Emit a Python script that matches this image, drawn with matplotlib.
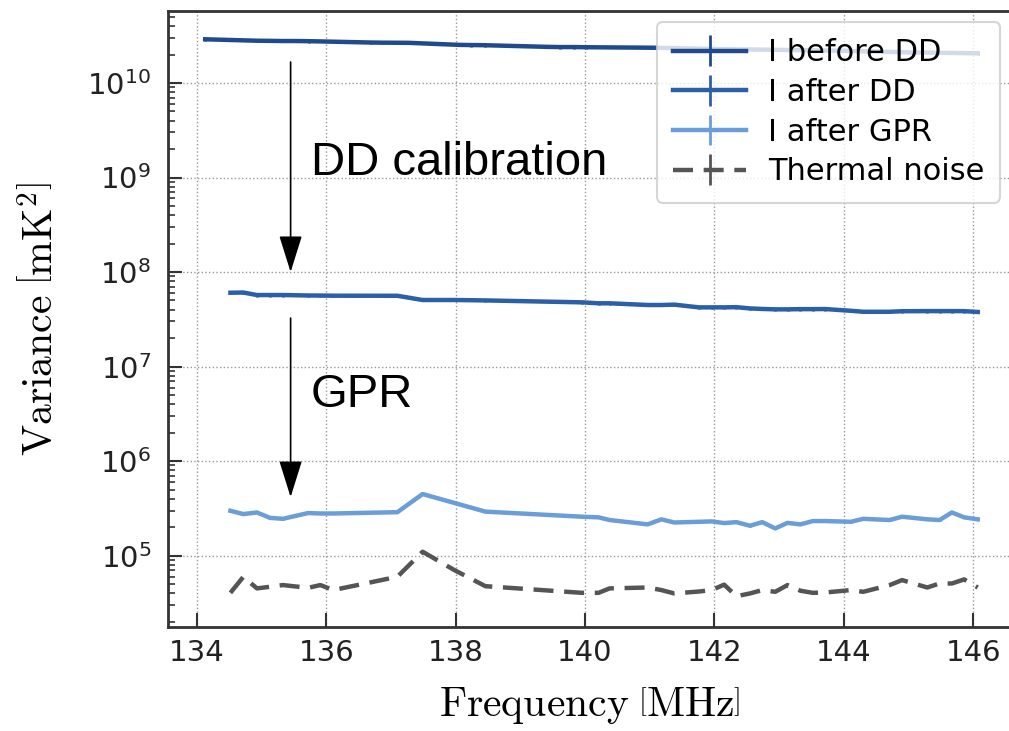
import numpy as np
import matplotlib
matplotlib.use("Agg")
import matplotlib.pyplot as plt
from matplotlib.ticker import LogLocator, NullFormatter, FixedLocator

# ---------------- data ----------------
freq_before = [134.13, 134.93, 135.14, 135.32, 135.50, 135.73, 136.69, 136.87, 137.28,
               138.06, 138.24, 138.45, 139.43, 139.61, 139.83, 140.01, 141.08, 142.0,
               143.0, 144.0, 145.0, 146.07]
var_before = [2.90e10, 2.80e10, 2.79e10, 2.78e10, 2.78e10, 2.77e10, 2.68e10, 2.67e10, 2.66e10,
              2.53e10, 2.52e10, 2.51e10, 2.41e10, 2.40e10, 2.40e10, 2.39e10, 2.36e10, 2.29e10,
              2.24e10, 2.19e10, 2.11e10, 2.06e10]

freq = [134.52, 134.72, 134.93, 135.13, 135.33, 135.72, 135.91, 136.11, 137.10, 137.49,
        137.98, 138.46, 139.95, 140.21, 140.38, 140.97, 141.18, 141.38, 141.76, 141.96,
        142.15, 142.34, 142.55, 142.74, 142.94, 143.13, 143.33, 143.52, 143.71, 144.11,
        144.30, 144.71, 144.90, 145.29, 145.48, 145.67, 145.86, 146.07]

var_after_dd = [6.04e7, 6.07e7, 5.71e7, 5.71e7, 5.71e7, 5.65e7, 5.64e7, 5.62e7, 5.61e7, 5.06e7,
                5.06e7, 5.01e7, 4.78e7, 4.67e7, 4.67e7, 4.48e7, 4.48e7, 4.52e7, 4.23e7, 4.23e7,
                4.23e7, 4.25e7, 4.12e7, 4.07e7, 4.03e7, 4.03e7, 4.05e7, 4.05e7, 4.06e7, 3.89e7,
                3.80e7, 3.80e7, 3.85e7, 3.86e7, 3.86e7, 3.86e7, 3.86e7, 3.78e7]

var_after_gpr = [2.98e5, 2.75e5, 2.86e5, 2.51e5, 2.45e5, 2.82e5, 2.79e5, 2.79e5, 2.88e5, 4.48e5,
                 3.61e5, 2.92e5, 2.58e5, 2.54e5, 2.38e5, 2.14e5, 2.42e5, 2.24e5, 2.28e5, 2.30e5,
                 2.21e5, 2.26e5, 2.07e5, 2.26e5, 1.94e5, 2.22e5, 2.14e5, 2.32e5, 2.32e5, 2.28e5,
                 2.45e5, 2.38e5, 2.58e5, 2.42e5, 2.38e5, 2.86e5, 2.54e5, 2.42e5]

var_thermal = [4.04e4, 5.97e4, 4.50e4, 4.68e4, 4.88e4, 4.56e4, 4.88e4, 4.32e4, 5.97e4, 1.10e5,
               7.03e4, 4.75e4, 4.04e4, 4.04e4, 4.50e4, 4.60e4, 4.32e4, 3.98e4, 4.17e4, 4.32e4,
               4.93e4, 3.72e4, 3.98e4, 4.32e4, 4.14e4, 4.88e4, 4.25e4, 4.04e4, 4.07e4, 4.32e4,
               4.14e4, 4.88e4, 5.51e4, 4.60e4, 5.07e4, 5.07e4, 5.60e4, 4.60e4]

labels = ["I before DD", "I after DD", "I after GPR", "Thermal noise"]
x_ticks = [134, 136, 138, 140, 142, 144, 146]
y_ticks = [1e5, 1e6, 1e7, 1e8, 1e9, 1e10]

# ---------------- figure ----------------
fig = plt.figure(figsize=(10.09, 7.31), dpi=100)
ax = fig.add_axes([0.1665, 0.1423, 0.8365, 0.8427])
ax.set_yscale("log")

c_before = "#1f4b8e"
c_after = "#2b5fa8"
c_gpr = "#6b9ed8"
c_th = "#555555"

err_before = [0.035 * v for v in var_before]
err_after = [0.035 * v for v in var_after_dd]
err_gpr = [0.02 * v for v in var_after_gpr]
err_th = [0.0 * v for v in var_thermal]

h1 = ax.errorbar(freq_before, var_before, yerr=err_before, color=c_before, lw=3.2, elinewidth=2, label=labels[0])
h2 = ax.errorbar(freq, var_after_dd, yerr=err_after, color=c_after, lw=3.2, elinewidth=2, label=labels[1])
h3 = ax.errorbar(freq, var_after_gpr, yerr=err_gpr, color=c_gpr, lw=3.2, elinewidth=2, label=labels[2])
h4 = ax.errorbar(freq, var_thermal, yerr=err_th, color=c_th, lw=3.2, elinewidth=2,
                 linestyle=(0, (4.5, 2.4)), label=labels[3])

ax.set_xlim(133.555, 146.60)
ax.set_ylim(10**4.245, 10**10.762)
ax.set_xticks(x_ticks)
ax.yaxis.set_major_locator(FixedLocator(y_ticks))
ax.yaxis.set_minor_locator(LogLocator(base=10, subs=np.arange(2, 10), numticks=100))
ax.yaxis.set_minor_formatter(NullFormatter())

ax.grid(True, which="major", linestyle=":", color="#999999", lw=1.0)
ax.tick_params(which="both", direction="in", labelsize=21, colors="#333333", labelcolor="#222222")
ax.tick_params(which="major", length=10, width=1.5)
ax.tick_params(axis="y", which="major", pad=12)
ax.tick_params(axis="x", which="major", pad=9)
ax.tick_params(which="minor", length=5, width=1.2)
for s in ax.spines.values():
    s.set_linewidth(2.0)
    s.set_color("#333333")

ax.set_xlabel(r"$\mathrm{Frequency}\;\left[\mathrm{MHz}\right]$", fontsize=30,
              math_fontfamily="cm", labelpad=12)
ax.set_ylabel(r"$\mathrm{Variance}\;\left[\mathrm{mK}^2\right]$", fontsize=30,
              math_fontfamily="cm", labelpad=18)

# arrows and annotations
arrow_x = 135.45
ap = dict(arrowstyle="-|>,head_length=1.15,head_width=0.36", color="k", lw=1.2,
          shrinkA=0, shrinkB=0, mutation_scale=20)
ax.annotate("", xy=(arrow_x, 1e8), xytext=(arrow_x, 10**10.222), arrowprops=ap)
ax.annotate("", xy=(arrow_x, 10**5.619), xytext=(arrow_x, 10**7.513), arrowprops=ap)
ax.text(135.76, 10**9.026, "DD calibration", fontsize=34, family="Liberation Sans",
        va="baseline", ha="left")
ax.text(135.76, 10**6.571, "GPR", fontsize=34, family="Liberation Sans",
        va="baseline", ha="left")

leg = ax.legend(handles=[h1, h2, h3, h4], labels=labels, loc="upper right",
                bbox_to_anchor=(0.986, 0.982), borderaxespad=0, fontsize=22,
                labelspacing=0.35, handlelength=2.4, handletextpad=0.7, borderpad=0.53,
                framealpha=0.8, edgecolor="#cccccc", fancybox=True)
leg.get_frame().set_linewidth(1.5)

fig.savefig("out.png", dpi=100)
